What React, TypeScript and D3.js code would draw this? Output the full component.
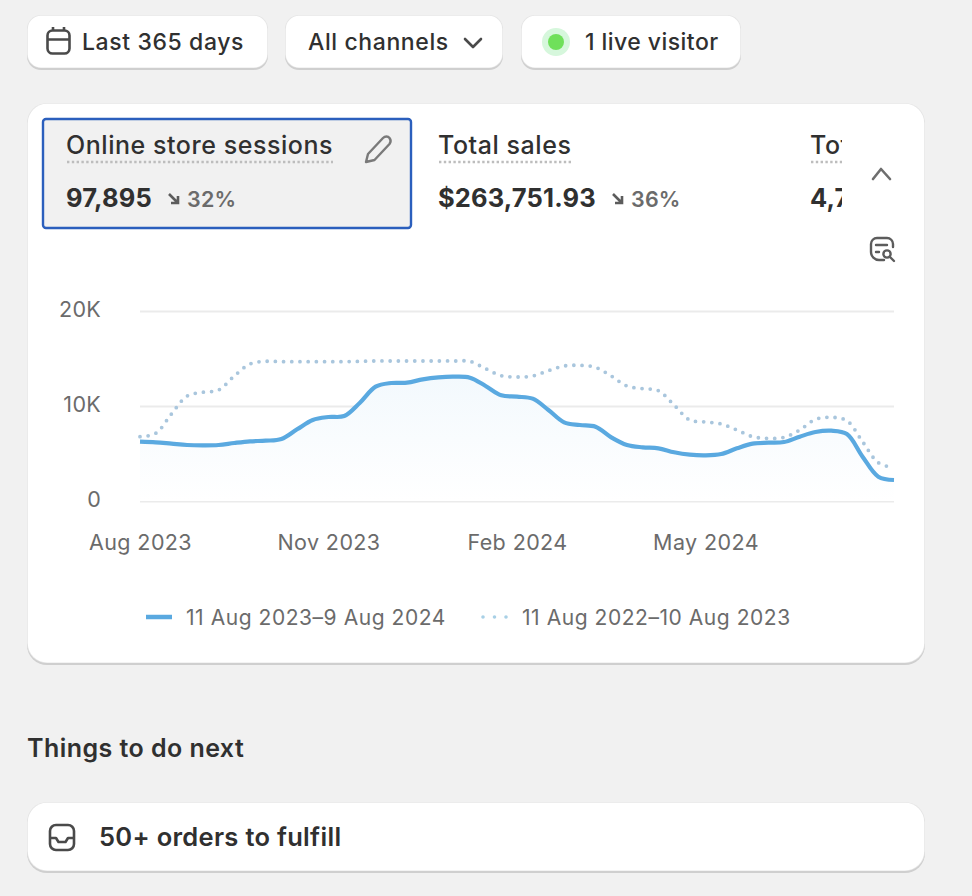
import { useEffect, useRef } from "react"
import * as d3 from "d3"

// one sample per quarter month, Aug 2023 to Aug 2024
const currentSessions = [
  6240, 6175, 6035, 5895, 5860, 5895, 6105, 6280, 6350, 6525, 7545, 8526, 8842, 8947, 10350, 12035, 12420,
  12456, 12810, 13020, 13088, 12982, 12105, 11122, 10982, 10772, 9580, 8280, 8000, 7825, 6700, 5895, 5650,
  5545, 5125, 4877, 4807, 4947, 5543, 6035, 6140, 6210, 6770, 7260, 7400, 7050, 4666, 2560, 2210,
]
const previousSessions = [
  6770, 7123, 9158, 11053, 11440, 11684, 13158, 14421, 14700, 14670, 14666, 14666, 14666, 14666, 14700, 14737,
  14737, 14737, 14737, 14737, 14737, 14700, 13930, 13193, 13053, 13158, 13719, 14210, 14280, 14070, 13158,
  12105, 11825, 11614, 10105, 8526, 8316, 8105, 7474, 6770, 6596, 6700, 7474, 8596, 8807, 8456, 6245, 4035, 3509,
]
const yTicks = [0, 10000, 20000]
const xTickSteps = [0, 12, 24, 36]
const xTickLabels = ["Aug 2023", "Nov 2023", "Feb 2024", "May 2024"]
const legendLabels = ["11 Aug 2023–9 Aug 2024", "11 Aug 2022–10 Aug 2023"]

const FONT = "Inter, 'Noto Sans', sans-serif"
const INK = "#303030"
const MUTED = "#6b6b6b"
const LINE_BLUE = "#5aa9e0"
const DOT_BLUE = "#a9c6dd"

function Panel({ x, y, w, h, r }: { x: number; y: number; w: number; h: number; r: number }) {
  return (
    <g>
      <rect x={x} y={y + 2} width={w} height={h} rx={r} fill="#cfcfcf" />
      <rect x={x} y={y} width={w} height={h} rx={r} fill="#e6e6e6" />
      <rect x={x + 0.8} y={y + 0.8} width={w - 1.6} height={h - 1.4} rx={r - 0.8} fill="#fff" />
    </g>
  )
}

function Chart() {
  const ref = useRef<SVGGElement>(null)

  useEffect(() => {
    if (!ref.current) return
    const g = d3.select(ref.current)
    g.selectAll("*").remove()

    const x = d3.scaleLinear().domain([0, currentSessions.length - 1]).range([140, 894])
    const y = d3.scaleLinear().domain([0, 20000]).range([501, 311])

    const yAxis = d3
      .axisLeft(y)
      .tickValues(yTicks)
      .tickFormat((d) => (+d === 0 ? "0" : `${+d / 1000}K`))
      .tickSize(-754)
      .tickPadding(39)
    const yG = g.append("g").attr("transform", "translate(140,0)").call(yAxis)
    yG.select(".domain").remove()
    yG.selectAll(".tick line").attr("stroke", "#ebebeb").attr("stroke-width", 2)
    yG.selectAll(".tick text")
      .attr("fill", MUTED)
      .attr("font-family", FONT)
      .attr("font-size", 21.5)
      .attr("letter-spacing", 0.3)
      .attr("dy", "0.24em")

    const xAxis = d3
      .axisBottom(x)
      .tickValues(xTickSteps)
      .tickFormat((_, i) => xTickLabels[i])
      .tickSize(0)
      .tickPadding(0)
    const xG = g.append("g").attr("transform", "translate(0,535)").call(xAxis)
    xG.select(".domain").remove()
    xG.selectAll(".tick text")
      .attr("fill", MUTED)
      .attr("font-family", FONT)
      .attr("font-size", 21.5)
      .attr("letter-spacing", 0.4)

    const area = d3
      .area<number>()
      .x((_, i) => x(i))
      .y0(y(0))
      .y1((d) => y(d))
      .curve(d3.curveCatmullRom.alpha(0.5))
    g.append("path").datum(currentSessions).attr("fill", "url(#areaFade)").attr("d", area)

    const line = d3
      .line<number>()
      .x((_, i) => x(i))
      .y((d) => y(d))
      .curve(d3.curveCatmullRom.alpha(0.5))

    g.append("path")
      .datum(previousSessions)
      .attr("fill", "none")
      .attr("stroke", DOT_BLUE)
      .attr("stroke-width", 3.8)
      .attr("stroke-linecap", "round")
      .attr("stroke-dasharray", "0 8.2")
      .attr("d", line)

    g.append("path")
      .datum(currentSessions)
      .attr("fill", "none")
      .attr("stroke", LINE_BLUE)
      .attr("stroke-width", 4.2)
      .attr("d", line)
  }, [])

  return <g ref={ref} />
}

export default function App() {
  return (
    <svg
      width={972}
      height={896}
      viewBox="0 0 972 896"
      style={{ position: "absolute", left: 0, top: 0, background: "#f1f1f1" }}
      fontFamily={FONT}
    >
      <defs>
        <linearGradient id="areaFade" x1="0" y1="0" x2="0" y2="1">
          <stop offset="0" stopColor="#f3f9fd" />
          <stop offset="1" stopColor="#ffffff" />
        </linearGradient>
        <clipPath id="tabClip">
          <rect x={420} y={110} width={422} height={120} />
        </clipPath>
      </defs>

      {/* top buttons */}
      <Panel x={27} y={15} w={241} h={53} r={14} />
      <Panel x={285} y={15} w={218} h={53} r={14} />
      <Panel x={521} y={15} w={220} h={53} r={14} />

      <g fill="none" stroke="#4a4a4a" strokeWidth={2.6}>
        <rect x={47.5} y={30.5} width={22} height={23} rx={5} />
        <path d="M47.5 39.5h22M53 27v4M64 27v4" />
      </g>
      <text x={82} y={50} fontSize={23} letterSpacing={0.6} fontWeight={500} fill={INK}>Last 365 days</text>
      <text x={308} y={50} fontSize={23} letterSpacing={0.6} fontWeight={500} fill={INK}>All channels</text>
      <path d="M465 39l8 8 8-8" fill="none" stroke="#4a4a4a" strokeWidth={2.6} strokeLinecap="round" strokeLinejoin="round" />
      <circle cx={556} cy={42} r={14} fill="#d6f7dc" />
      <circle cx={556} cy={42} r={8} fill="#6fe05a" />
      <text x={585} y={50} fontSize={23} letterSpacing={0.45} fontWeight={500} fill={INK}>1 live visitor</text>

      {/* main card */}
      <Panel x={27} y={103} w={898} h={560} r={20} />

      <rect x={43} y={119} width={368} height={109} rx={3} fill="#f1f1f1" stroke="#2b5fbd" strokeWidth={2.4} />
      <text x={66} y={154} fontSize={25} letterSpacing={0.55} fontWeight={500} fill={INK}>Online store sessions</text>
      <line x1={67} x2={333} y1={162} y2={162} stroke="#bdbdbd" strokeWidth={2.4} strokeDasharray="2.4 2.4" />
      <path
        d="M366 162l2-8 15-16c2-2 5-2 6.500 0s1.500 4 0 6l-15 16z"
        fill="none"
        stroke="#7a7a7a"
        strokeWidth={2.4}
        strokeLinejoin="round"
      />
      <text x={66} y={207} fontSize={25.5} letterSpacing={0.15} fontWeight={650} fill={INK}>97,895</text>
      <path d="M169 194l9 9M178 196v7h-7" fill="none" stroke="#5c5c5c" strokeWidth={2.6} />
      <text x={187} y={207} fontSize={21.5} letterSpacing={0.2} fontWeight={600} fill={MUTED}>32%</text>

      <text x={438} y={154} fontSize={25} letterSpacing={0.55} fontWeight={500} fill={INK}>Total sales</text>
      <line x1={439} x2={571} y1={162} y2={162} stroke="#bdbdbd" strokeWidth={2.4} strokeDasharray="2.4 2.4" />
      <text x={438} y={207} fontSize={25.5} letterSpacing={0.15} fontWeight={650} fill={INK}>$263,751.93</text>
      <path d="M613 194l9 9M622 196v7h-7" fill="none" stroke="#5c5c5c" strokeWidth={2.6} />
      <text x={631} y={207} fontSize={21.5} letterSpacing={0.2} fontWeight={600} fill={MUTED}>36%</text>

      <g clipPath="url(#tabClip)">
        <text x={810} y={154} fontSize={25} letterSpacing={0.55} fontWeight={500} fill={INK}>Total orders</text>
        <line x1={811} x2={900} y1={162} y2={162} stroke="#bdbdbd" strokeWidth={2.4} strokeDasharray="2.4 2.4" />
        <text x={810} y={207} fontSize={25.5} letterSpacing={0.15} fontWeight={650} fill={INK}>4,728</text>
      </g>

      <path d="M873 179l8-10 9 10" fill="none" stroke="#6e6e6e" strokeWidth={2.6} strokeLinecap="round" strokeLinejoin="round" />
      <g fill="none" stroke="#5c5c5c" strokeWidth={2.4} strokeLinecap="round">
        <path d="M884 260h-5a8 8 0 0 1-8-8v-8a6 6 0 0 1 6-6h10a6 6 0 0 1 6 6v3" />
        <path d="M876 245h11M876 252h3" />
        <circle cx={887} cy={254} r={3.6} />
        <path d="M890 257l4 4" />
      </g>

      <Chart />

      {/* legend */}
      <line x1={146} x2={172} y1={617} y2={617} stroke={LINE_BLUE} strokeWidth={4.5} />
      <text x={186} y={625} fontSize={21} letterSpacing={0.55} fill={MUTED}>{legendLabels[0]}</text>
      <line x1={483} x2={507} y1={617} y2={617} stroke="#a8d0e6" strokeWidth={3.6} strokeLinecap="round" strokeDasharray="0 11.500" />
      <text x={522} y={625} fontSize={21} letterSpacing={0.55} fill={MUTED}>{legendLabels[1]}</text>

      {/* below the card */}
      <text x={27} y={757} fontSize={25} letterSpacing={0.45} fontWeight={600} fill={INK}>Things to do next</text>

      <Panel x={27} y={802} w={898} h={69} r={20} />
      <g fill="none" stroke="#4a4a4a" strokeWidth={2.6} strokeLinejoin="round">
        <rect x={50} y={825} width={24} height={25} rx={6} />
        <path d="M50 838h6l2.500 4h7l2.500-4h6" />
      </g>
      <text x={99} y={846} fontSize={25.5} letterSpacing={0.3} fontWeight={600} fill={INK}>50+ orders to fulfill</text>
    </svg>
  )
}
